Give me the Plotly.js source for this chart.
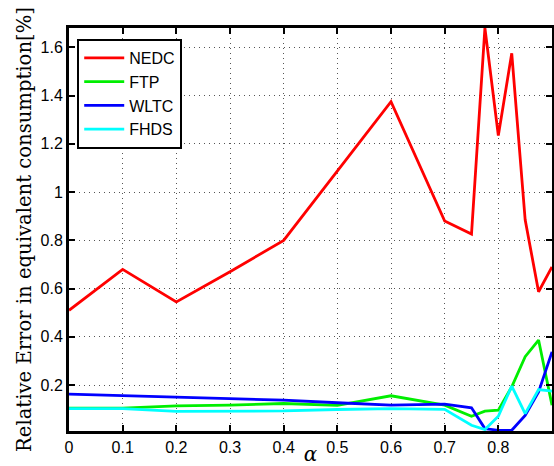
<!DOCTYPE html>
<html>
<head>
<meta charset="utf-8">
<script src="https://cdn.plot.ly/plotly-3.0.1.min.js"></script>
<style>html,body{margin:0;padding:0;background:#fff;}#chart{width:554px;height:466px;}</style>
</head>
<body>
<div id="chart"></div>
<script>
// alpha values (x)
const alpha = [0, 0.1, 0.2, 0.3, 0.4, 0.5, 0.6, 0.7, 0.75, 0.775, 0.8, 0.825, 0.85, 0.875, 0.9];
// series values (relative error, %)
const nedc = [0.51, 0.68, 0.545, 0.67, 0.80, 1.09, 1.375, 0.88, 0.826, 1.68, 1.234, 1.575, 0.885, 0.587, 0.69];
const ftp  = [0.105, 0.105, 0.114, 0.117, 0.124, 0.116, 0.156, 0.117, 0.071, 0.092, 0.096, 0.193, 0.318, 0.387, 0.117];
const wltc = [0.163, 0.157, 0.152, 0.146, 0.138, 0.127, 0.117, 0.121, 0.106, 0.02, 0.013, 0.013, 0.075, 0.172, 0.338];
const fhds = [0.103, 0.103, 0.091, 0.091, 0.093, 0.099, 0.103, 0.1, 0.034, 0.016, 0.071, 0.196, 0.082, 0.182, 0.175];
const seriesNames = ["NEDC", "FTP", "WLTC", "FHDS"];
// tick labels
const xTickVals = [0, 0.1, 0.2, 0.3, 0.4, 0.5, 0.6, 0.7, 0.8];
const xTickText = ["0", "0.1", "0.2", "0.3", "0.4", "0.5", "0.6", "0.7", "0.8"];
const yTickVals = [0.2, 0.4, 0.6, 0.8, 1.0, 1.2, 1.4, 1.6];
const yTickText = ["0.2", "0.4", "0.6", "0.8", "1", "1.2", "1.4", "1.6"];

const colors = ["#ff0000", "#00ee00", "#0000ff", "#00ffff"];
const ys = [nedc, ftp, wltc, fhds];
const traces = ys.map((y, i) => ({
  x: alpha, y: y, type: "scatter", mode: "lines", name: seriesNames[i],
  line: {color: colors[i], width: 2.8}
}));

const tickFont = {family: "Liberation Sans, Arial, sans-serif", size: 16, color: "#000"};
const axisCommon = {
  ticks: "inside", ticklen: 6, tickwidth: 2, tickcolor: "#000",
  showline: true, linewidth: 3, linecolor: "#000", mirror: "allticks",
  showgrid: true, gridcolor: "#555", griddash: "1px,4px", gridwidth: 1,
  zeroline: false, tickfont: tickFont, fixedrange: true
};

const layout = {
  width: 554, height: 466,
  margin: {l: 69, r: 2, t: 28, b: 35},
  paper_bgcolor: "#fff", plot_bgcolor: "#fff",
  showlegend: true,
  legend: {
    x: 0.017, y: 0.973, xanchor: "left", yanchor: "top",
    bgcolor: "#fff", bordercolor: "#000", borderwidth: 2,
    font: {family: "Liberation Sans, Arial, sans-serif", size: 16, color: "#000"},
    itemwidth: 40, tracegroupgap: 0
  },
  xaxis: Object.assign({}, axisCommon, {
    range: [0, 0.9], tickmode: "array", tickvals: xTickVals, ticktext: xTickText,
    title: {text: "<i>α</i>", standoff: 4, font: {family: "DejaVu Serif, serif", size: 20, color: "#000"}}
  }),
  yaxis: Object.assign({}, axisCommon, {
    range: [0.01, 1.68], tickmode: "array", tickvals: yTickVals, ticktext: yTickText,
    title: {text: "Relative Error in equivalent consumption[%]", standoff: 4, font: {family: "DejaVu Serif, serif", size: 19.6, color: "#000"}}
  })
};

Plotly.newPlot("chart", traces, layout, {displayModeBar: false, staticPlot: true});
</script>
</body>
</html>
